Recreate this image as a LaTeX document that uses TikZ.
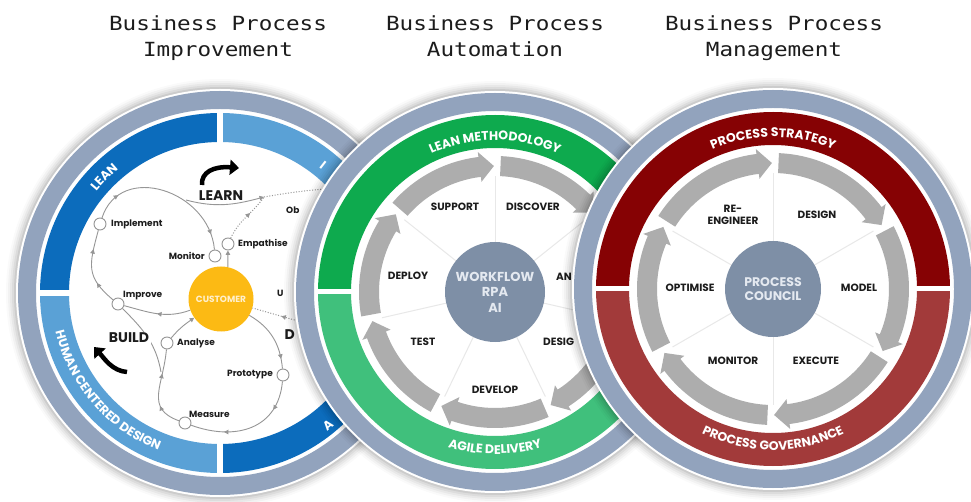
\documentclass[tikz,border=0pt]{standalone}
\usepackage{fontspec}
\setmainfont{Poppins}
\newfontfamily\titlefont{DejaVu Sans Mono}[FakeStretch=1.16]
\usetikzlibrary{arrows.meta,decorations.text,decorations.markings}

\definecolor{ringgray}{RGB}{146,163,189}
\definecolor{hubgray}{RGB}{126,143,166}
\definecolor{hubtext}{RGB}{228,233,240}
\definecolor{bluedark}{RGB}{12,108,188}
\definecolor{bluelight}{RGB}{90,161,214}
\definecolor{greendark}{RGB}{14,170,78}
\definecolor{greenlight}{RGB}{64,192,124}
\definecolor{reddark}{RGB}{134,2,4}
\definecolor{redlight}{RGB}{162,58,58}
\definecolor{custyellow}{RGB}{252,186,20}
\definecolor{custtext}{RGB}{255,240,205}
\definecolor{arrowgray}{RGB}{173,173,173}
\definecolor{linegray}{RGB}{150,150,150}
\definecolor{spokegray}{RGB}{232,232,232}
\definecolor{inkblack}{RGB}{28,28,28}

% soft shadow, white disc and the outer grey ring of one wheel
\newcommand\discframe[2]{%
  \foreach \rr/\op in {10/0.02,8/0.03,6/0.04,4/0.05,2/0.07}{\fill[black,opacity=\op] (#1) circle[radius=#2+2+\rr];}
  \fill[white] (#1) circle[radius=#2+2];
  \fill[ringgray,even odd rule] (#1) circle[radius=#2] (#1) circle[radius=#2-18];
}
% one coloured segment of the band: colour, start angle, end angle, inner and outer radius
\newcommand\bandseg[5]{\fill[#1] (#2:#5) arc[start angle=#2,end angle=#3,radius=#5] -- (#3:#4) arc[start angle=#3,end angle=#2,radius=#4] -- cycle;}
% clockwise ring of curved grey arrows: number of steps, step angle
\newcommand\ringarrows[2]{%
  \foreach \k in {1,...,#1}{
    \pgfmathsetmacro\sa{90-(\k-1)*#2-2.5}
    \pgfmathsetmacro\ea{90-\k*#2+0.5}
    \pgfmathsetmacro\ha{\ea+6.5}
    \fill[arrowgray] (\sa:136) arc[start angle=\sa,end angle=\ha,radius=136] -- (\ha:141) -- (\ea:126) -- (\ha:111) -- (\ha:116) arc[start angle=\ha,end angle=\sa,radius=116] -- cycle;
  }}
% thin spokes between the steps
\newcommand\ringspokes[2]{%
  \foreach \k in {1,...,#1}{
    \pgfmathsetmacro\ba{90-(\k-1)*#2}
    \draw[spokegray,line width=1pt] (\ba:45) -- (\ba:116);
  }}

\tikzset{
  titletext/.style={anchor=base,inner sep=0pt,text=inkblack,font=\titlefont\fontsize{19.5}{22}\selectfont},
  bandtext/.style={decorate,decoration={text along path,text align=center,
      text={|\color{white}\bfseries\fontsize{12.5}{13}\selectfont|#1}}},
  bandfrag/.style={text=white,font=\bfseries\fontsize{12.5}{13}\selectfont,inner sep=0pt},
  hub/.style={circle,fill=hubgray,inner sep=0pt,text=hubtext,align=center,font=\bfseries\fontsize{13}{15.5}\selectfont},
  steptext/.style={font=\bfseries\fontsize{10.5}{12.5}\selectfont,text=inkblack,align=center,inner sep=0pt},
  stepdot/.style={circle,draw=linegray,fill=white,line width=0.9pt,minimum size=12pt,inner sep=0pt},
  steplabel/.style={font=\bfseries\fontsize{9}{10}\selectfont,text=inkblack,inner sep=0pt},
  phaselabel/.style={font=\bfseries\fontsize{14}{16}\selectfont,text=inkblack,inner sep=1.5pt},
  custdisc/.style={circle,fill=custyellow,minimum size=65pt,inner sep=0pt,text=custtext,font=\bfseries\fontsize{9}{10}\selectfont},
  loopline/.style={draw=linegray,line width=0.9pt},
  dotline/.style={draw=linegray,line width=1pt,dash pattern=on 1pt off 1.7pt},
  midarrow/.style={postaction={decorate,decoration={markings,mark=at position #1 with {\arrow{Triangle[length=4.5pt,width=4.5pt]}}}}},
  tiparrow/.style={-{Triangle[length=4.5pt,width=4.5pt]}},
  swoosh/.style={draw=black,line width=4.5pt,-{Triangle[length=9pt,width=15pt]}},
}

\begin{document}
\begin{tikzpicture}[x=1pt,y=1pt]
\useasboundingbox (0,0) rectangle (971,-502);
\fill[white] (0,0) rectangle (971,-502);

% ---------- titles ----------
\node[titletext] (ttlAa) at (218,-31) {Business Process};
\node[titletext] (ttlAb) at (218,-57) {Improvement};
\node[titletext] (ttlBa) at (495,-31) {Business Process};
\node[titletext] (ttlBb) at (495,-57) {Automation};
\node[titletext] (ttlCa) at (774,-31) {Business Process};
\node[titletext] (ttlCb) at (774,-57) {Management};

% ---------- wheel 1: improvement ----------
\coordinate (L) at (220,-293);
\discframe{L}{202}
\begin{scope}[shift={(220,-293)}]
  \bandseg{bluedark}{90}{180}{151}{180}
  \bandseg{bluelight}{0}{90}{151}{180}
  \bandseg{bluelight}{180}{270}{151}{180}
  \bandseg{bluedark}{270}{360}{151}{180}
  \draw[white,line width=6pt] (0:148)--(0:182) (90:148)--(90:182) (180:148)--(180:182) (270:148)--(270:182);
  \path[bandtext=LEAN] (160:160) arc[start angle=160,end angle=110,radius=160];
  \path[bandtext=HUMAN CENTERED DESIGN] (180:169) arc[start angle=180,end angle=262,radius=169];
\end{scope}
\node[bandfrag,rotate=-38] (fragI) at (323,-165) {I};
\node[bandfrag,rotate=39] (fragA) at (328,-425) {A};

\node[custdisc] (customer) at (221,-299) {CUSTOMER};
\node[stepdot] (improve) at (118,-304) {};
\node[stepdot] (implement) at (100,-224) {};
\node[stepdot] (monitor) at (215,-256) {};
\node[stepdot] (empathise) at (228,-244) {};
\node[stepdot] (analyse) at (167,-343) {};
\node[stepdot] (prototype) at (283,-375) {};
\node[stepdot] (measure) at (185,-423) {};
\coordinate (learnA) at (186,-200);
\coordinate (learnB) at (264,-197);
\coordinate (obtop) at (335,-188);
\coordinate (undr) at (305,-323);
\coordinate (buildjoin) at (161,-372);

% upper loop
\draw[loopline,midarrow=0.5] (customer) to[out=200,in=-15] (improve);
\draw[loopline,midarrow=0.3,midarrow=0.75] (improve) to[out=140,in=-105,looseness=1.3] (implement);
\draw[loopline,midarrow=0.18,midarrow=0.9] (implement) to[out=72,in=95,looseness=1.3] (monitor);
\draw[loopline] (improve) to[out=-45,in=100] (buildjoin);
% learn link and right loop
\draw[loopline,tiparrow] (learnA) to[out=-15,in=195] (learnB);
\draw[dotline] (learnB) to[out=10,in=185] (obtop);
\draw[dotline,midarrow=0.6] (empathise) to[out=65,in=235] (learnB);
\draw[loopline,tiparrow] (customer.78) -- (empathise);
\draw[dotline,midarrow=0.45] (undr) -- (customer);
% lower loop
\draw[loopline,midarrow=0.85] (customer) to[out=-30,in=95] (prototype);
\draw[loopline,midarrow=0.25,midarrow=0.72] (prototype) to[out=-95,in=-20,looseness=1.2] (measure);
\draw[loopline,midarrow=0.3,midarrow=0.7] (measure) to[out=160,in=-95,looseness=1.3] (analyse);
\draw[loopline,tiparrow] (analyse) to[out=50,in=215] (customer);

\node[steplabel,anchor=west] (lImplement) at (111,-224) {Implement};
\node[steplabel,anchor=east] (lMonitor) at (205,-256) {Monitor};
\node[steplabel,anchor=west] (lEmpathise) at (238,-244) {Empathise};
\node[steplabel,anchor=west] (lImprove) at (123,-296) {Improve};
\node[steplabel,anchor=west] (lAnalyse) at (177,-343) {Analyse};
\node[steplabel,anchor=east] (lPrototype) at (273,-375) {Prototype};
\node[steplabel,anchor=west] (lMeasure) at (189,-414) {Measure};
\node[steplabel,anchor=west] (lOb) at (286,-210) {Ob};
\node[steplabel,anchor=west] (lU) at (277,-293) {U};

\node[phaselabel] (learn) at (221,-196) {LEARN};
\node[phaselabel,fill=white] (build) at (129,-338) {BUILD};
\node[phaselabel,anchor=west] (dphase) at (283,-335) {D};
\draw[swoosh] (202,-185) .. controls (201,-172) and (214,-166) .. (239,-168);
\draw[swoosh] (127,-372) .. controls (112,-371) and (104,-358) .. (94,-347);

% ---------- wheel 2: automation ----------
\coordinate (M) at (495,-292);
\discframe{M}{199}
\begin{scope}[shift={(495,-292)}]
  \bandseg{greendark}{0}{180}{144}{177}
  \bandseg{greenlight}{180}{360}{144}{177}
  \draw[white,line width=5pt] (0:142)--(0:180) (180:142)--(180:180);
  \path[bandtext=LEAN METHODOLOGY] (150:152) arc[start angle=150,end angle=30,radius=152];
  \path[bandtext=AGILE DELIVERY] (210:162) arc[start angle=210,end angle=330,radius=162];
  \ringspokes{7}{51.4286}
  \ringarrows{7}{51.4286}
\end{scope}
\node[hub,minimum size=100pt] (hubM) at (495,-292) {WORKFLOW\\RPA\\AI};
\node[steptext] (support) at (455,-207) {SUPPORT};
\node[steptext] (discover) at (533,-207) {DISCOVER};
\node[steptext,anchor=west] (analysefrag) at (556,-277) {AN};
\node[steptext,anchor=west] (designfrag) at (543,-342) {DESIG};
\node[steptext] (develop) at (495,-390) {DEVELOP};
\node[steptext] (test) at (423,-342) {TEST};
\node[steptext] (deploy) at (408,-276) {DEPLOY};

% ---------- wheel 3: management ----------
\coordinate (R) at (773,-289);
\discframe{R}{199}
\begin{scope}[shift={(773,-289)}]
  \bandseg{reddark}{0}{180}{144}{177}
  \bandseg{redlight}{180}{360}{144}{177}
  \draw[white,line width=5pt] (0:142)--(0:180) (180:142)--(180:180);
  \path[bandtext=PROCESS STRATEGY] (150:152) arc[start angle=150,end angle=30,radius=152];
  \path[bandtext=PROCESS GOVERNANCE] (205:161) arc[start angle=205,end angle=335,radius=161];
  \ringspokes{6}{60}
  \ringarrows{6}{60}
\end{scope}
\node[hub,minimum size=96pt,font=\bfseries\fontsize{12.5}{14.5}\selectfont] (hubR) at (773,-289) {PROCESS\\COUNCIL};
\node[steptext] (reengineer) at (733,-215) {RE-\\ENGINEER};
\node[steptext] (design) at (817,-215) {DESIGN};
\node[steptext] (model) at (859,-288) {MODEL};
\node[steptext] (execute) at (816,-361) {EXECUTE};
\node[steptext] (monitorR) at (733,-361) {MONITOR};
\node[steptext] (optimise) at (690,-288) {OPTIMISE};
\end{tikzpicture}
\end{document}
